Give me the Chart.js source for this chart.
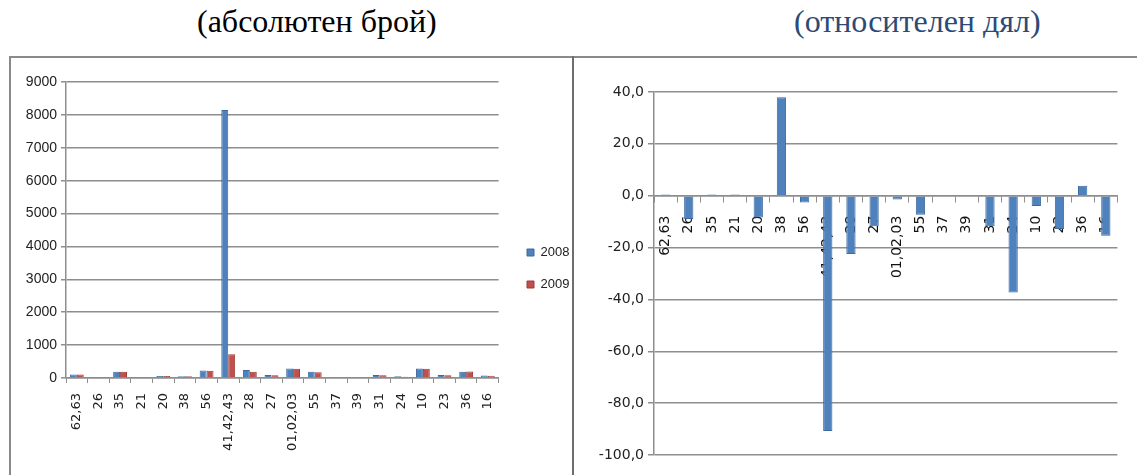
<!DOCTYPE html>
<html>
<head>
<meta charset="utf-8">
<script src="https://cdn.jsdelivr.net/npm/chart.js@4.4.0/dist/chart.umd.min.js"></script>
<style>
  body { margin: 0; background: #fff; width: 1137px; height: 475px; position: relative; overflow: hidden; }
  .title { position: absolute; top: 3px; font-family: "Liberation Serif", serif; font-size: 32px; white-space: nowrap; }
  #t1 { left: 197px; color: #000; }
  #t2 { left: 794px; color: #2b4a78; }
  .frame { position: absolute; background: #8a8a8a; }
  #boxL { position: absolute; left: 11px; top: 58px; width: 561px; height: 417px; }
  #boxR { position: absolute; left: 575px; top: 58px; width: 562px; height: 417px; }
</style>
</head>
<body>
<div class="title" id="t1">(абсолютен брой)</div>
<div class="title" id="t2">(относителен дял)</div>
<div class="frame" style="left:9px;top:56px;width:1128px;height:2px"></div>
<div class="frame" style="left:9px;top:56px;width:2px;height:419px"></div>
<div class="frame" style="left:572px;top:56px;width:2px;height:419px;background:#6e6e6e"></div>
<div id="boxL"><canvas id="chartAbs"></canvas></div>
<div id="boxR"><canvas id="chartRel"></canvas></div>
<script>
// Категории (кодове)
const categories = ['62,63', '26', '35', '21', '20', '38', '56', '41,42,43', '28', '27',
  '01,02,03', '55', '37', '39', '31', '24', '10', '23', '36', '16'];

// Абсолютен брой
const values2008 = [110, 30, 190, 30, 60, 50, 225, 8150, 240, 95, 290, 190, 25, 25, 90, 55, 290, 90, 190, 75];
const values2009 = [110, 30, 190, 30, 60, 50, 220, 720, 187, 85, 285, 178, 25, 25, 80, 35, 280, 80, 197, 65];

// Относителен дял (промяна, %)
const relChange = [0.5, -9.0, 0.5, 0.5, -8.4, 38.0, -2.6, -90.7, -22.5, -11.8, -1.5, -7.3, 0.3, 0.3,
  -11.8, -37.3, -4.0, -12.8, 3.8, -15.4];

const blue = '#4f81bd';
const red = '#c0504d';
const gridCol = '#8e8e8e';

// legend offset helper (moves the legend box after layout)
const legendShift = {
  id: 'legendShift',
  afterLayout(chart, args, opts) {
    const lg = chart.legend;
    if (!lg || !opts.x) return;
    const w = lg.width, h = lg.height;
    lg.left = opts.x; lg.right = opts.x + w;
    lg.top += opts.dy; lg.bottom = lg.top + h;
  }
};

// Лява графика – абсолютен брой
new Chart(document.getElementById('chartAbs'), {
  type: 'bar',
  data: {
    labels: categories,
    datasets: [
      { label: '2008', data: values2008, backgroundColor: blue, borderColor: '#3b6aa0', borderWidth: 1 },
      { label: '2009', data: values2009, backgroundColor: red, borderColor: '#9b3b38', borderWidth: 1 }
    ]
  },
  options: {
    responsive: true,
    maintainAspectRatio: false,
    animation: false,
    layout: { padding: { top: 24, right: 2, left: 0, bottom: 0 } },
    categoryPercentage: 0.64,
    barPercentage: 1.0,
    plugins: {
      legend: {
        position: 'right',
        labels: { boxWidth: 7, boxHeight: 7, padding: 19, color: '#222',
          font: { family: '"Liberation Sans Narrow", "Liberation Sans", sans-serif', size: 13 } }
      },
      tooltip: { enabled: false },
      legendShift: { x: 497, dy: -10 }
    },
    scales: {
      x: {
        grid: { drawOnChartArea: false, color: gridCol, tickLength: 5 },
        border: { color: gridCol, width: 1.5 },
        ticks: { minRotation: 90, maxRotation: 90, autoSkip: false, padding: 10, color: '#222',
          font: { family: '"DejaVu Sans", sans-serif', size: 13 } },
        afterFit: s => { s.height = 97; }
      },
      y: {
        min: 0, max: 9000,
        ticks: { stepSize: 1000, padding: 4, color: '#222', callback: v => String(v),
          font: { family: '"Liberation Sans Narrow", "Liberation Sans", sans-serif', size: 14 } },
        grid: { color: gridCol, lineWidth: 1.5, tickLength: 5 },
        border: { color: gridCol, width: 1.5 },
        afterFit: s => { s.width = 55; }
      }
    }
  },
  plugins: [legendShift]
});

// Дясна графика – относителен дял
new Chart(document.getElementById('chartRel'), {
  type: 'bar',
  data: {
    labels: categories,
    datasets: [{ label: 'Промяна', data: relChange, backgroundColor: blue, borderColor: '#3b6aa0', borderWidth: 1 }]
  },
  options: {
    responsive: true,
    maintainAspectRatio: false,
    animation: false,
    layout: { padding: { top: 34, right: 15, left: 0, bottom: 20 } },
    categoryPercentage: 0.8,
    barPercentage: 0.5,
    plugins: { legend: { display: false }, tooltip: { enabled: false } },
    scales: {
      x: {
        position: { y: 0 },
        grid: { drawOnChartArea: false, color: gridCol, tickLength: 6 },
        border: { color: gridCol, width: 1.5 },
        ticks: { minRotation: 90, maxRotation: 90, autoSkip: false, padding: 14, color: '#111',
          font: { family: '"DejaVu Sans", sans-serif', size: 14 } }
      },
      y: {
        min: -100, max: 40,
        ticks: { stepSize: 20, padding: 4, color: '#222',
          font: { family: '"DejaVu Sans", sans-serif', size: 14 },
          callback: v => v.toFixed(1).replace('.', ',') },
        grid: { color: gridCol, lineWidth: 1.5, tickLength: 6 },
        border: { color: gridCol, width: 1.5 },
        afterFit: s => { s.width = 79; }
      }
    }
  }
});
</script>
</body>
</html>
